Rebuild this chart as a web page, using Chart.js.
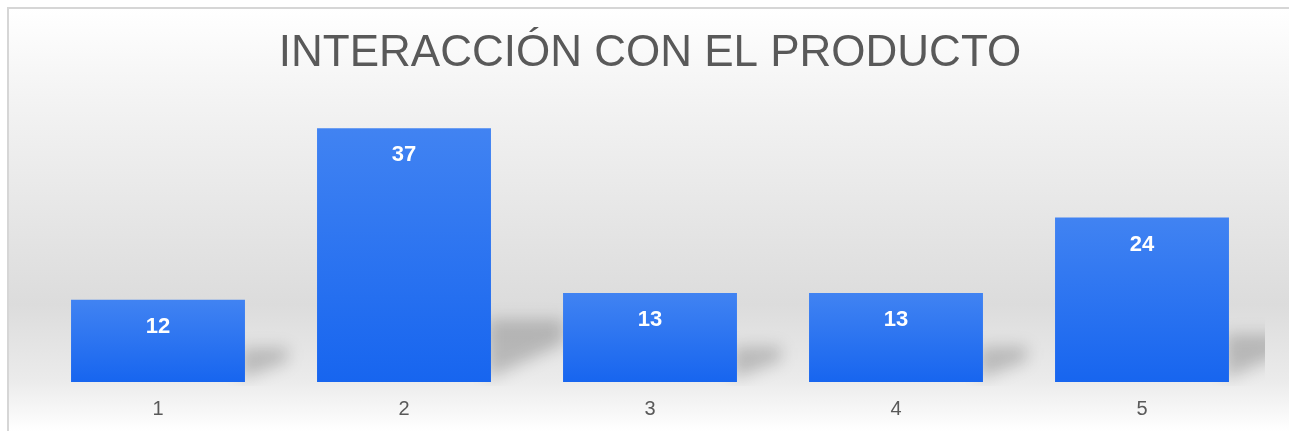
<!DOCTYPE html>
<html>
<head>
<meta charset="utf-8">
<script src="https://cdn.jsdelivr.net/npm/chart.js@4.4.1/dist/chart.umd.min.js"></script>
<style>
  html, body { margin: 0; padding: 0; background: #ffffff; }
  #wrap { position: absolute; left: 0; top: 0; width: 1289px; height: 431px; }
</style>
</head>
<body>
<div id="wrap"><canvas id="chart"></canvas></div>
<script>
const categories = ['1', '2', '3', '4', '5'];
const values = [12, 37, 13, 13, 24];
const chartTitle = 'INTERACCIÓN CON EL PRODUCTO';

// background gradient + thin frame at top/left
const backdrop = {
    id: 'backdrop',
    beforeDraw(chart) {
        const ctx = chart.ctx;
        const w = chart.width, h = chart.height;
        const g = ctx.createLinearGradient(0, 8, 0, h);
        g.addColorStop(0, '#ffffff');
        g.addColorStop(0.22, '#f3f3f3');
        g.addColorStop(0.7, '#dcdcdc');
        g.addColorStop(0.88, '#ebebeb');
        g.addColorStop(1, '#ffffff');
        ctx.save();
        ctx.fillStyle = g;
        ctx.fillRect(8, 8, w - 8, h - 8);
        ctx.strokeStyle = '#d6d6d6';
        ctx.lineWidth = 2;
        ctx.beginPath();
        ctx.moveTo(8, h);
        ctx.lineTo(8, 8);
        ctx.lineTo(w, 8);
        ctx.stroke();
        ctx.restore();
    }
};

// soft cast shadow to the right of each bar, sized by the bar height
const barShadows = {
    id: 'barShadows',
    beforeDatasetsDraw(chart) {
        const ctx = chart.ctx;
        const area = chart.chartArea;
        ctx.save();
        ctx.beginPath();
        ctx.rect(area.left, area.top, area.right - area.left, area.bottom - area.top + 4);
        ctx.clip();
        ctx.filter = 'blur(8px)';
        ctx.fillStyle = 'rgba(0, 0, 0, 0.2)';
        chart.getDatasetMeta(0).data.forEach(bar => {
            const r = bar.x + bar.width / 2;
            const b = bar.base;
            const bh = b - bar.y;
            const w = 28 + 0.18 * bh;
            const top = 20 + 0.17 * bh;
            ctx.beginPath();
            ctx.moveTo(r - 4, b - top);
            ctx.lineTo(r + w, b - top);
            ctx.lineTo(r + w, b - top * 0.62);
            ctx.lineTo(r - 4, b - 3);
            ctx.closePath();
            ctx.fill();
        });
        ctx.restore();
    }
};

// value labels inside the bars
const valueLabels = {
    id: 'valueLabels',
    afterDatasetsDraw(chart) {
        const ctx = chart.ctx;
        ctx.save();
        ctx.fillStyle = '#ffffff';
        ctx.font = 'bold 22px "Liberation Sans", Arial, sans-serif';
        ctx.textAlign = 'center';
        ctx.textBaseline = 'middle';
        chart.getDatasetMeta(0).data.forEach((bar, i) => {
            ctx.fillText(String(values[i]), bar.x, bar.y + 27);
        });
        ctx.restore();
    }
};

function barGradient(context) {
    const chart = context.chart;
    const y = chart.scales.y;
    if (!chart.chartArea || !y) return '#2a72f0';
    const top = y.getPixelForValue(values[context.dataIndex]);
    const bottom = y.getPixelForValue(0);
    const g = chart.ctx.createLinearGradient(0, top, 0, bottom);
    g.addColorStop(0, '#4183f2');
    g.addColorStop(1, '#1765ef');
    return g;
}

new Chart(document.getElementById('chart'), {
    type: 'bar',
    data: {
        labels: categories,
        datasets: [{
            data: values,
            backgroundColor: barGradient,
            borderWidth: 0,
            barPercentage: 0.707,
            categoryPercentage: 1
        }]
    },
    options: {
        responsive: true,
        maintainAspectRatio: false,
        animation: false,
        layout: { padding: { left: 35, right: 24, top: 0, bottom: 10 } },
        plugins: {
            legend: { display: false },
            tooltip: { enabled: false },
            title: {
                display: true,
                text: chartTitle,
                color: '#595959',
                font: { family: '"Liberation Sans", Arial, sans-serif', size: 44, weight: 'normal', lineHeight: 1.2 },
                padding: { top: 27, bottom: 28 }
            }
        },
        scales: {
            x: {
                grid: { display: false, drawTicks: false },
                border: { display: false },
                ticks: {
                    color: '#595959',
                    padding: 15,
                    font: { family: '"Liberation Sans", Arial, sans-serif', size: 20 }
                },
                afterFit(scale) { scale.height = 39; }
            },
            y: {
                display: false,
                min: 0,
                max: 40
            }
        }
    },
    plugins: [backdrop, barShadows, valueLabels]
});
</script>
</body>
</html>
